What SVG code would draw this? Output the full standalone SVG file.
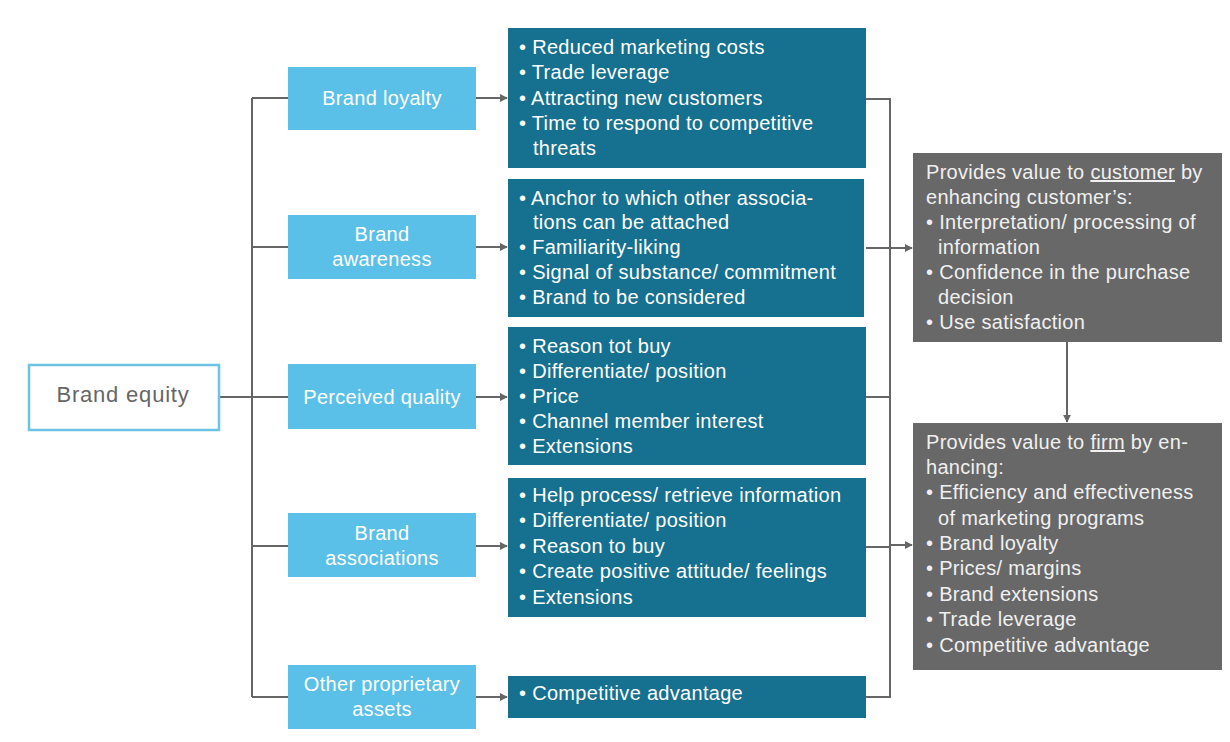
<svg xmlns="http://www.w3.org/2000/svg" width="1230" height="742" viewBox="0 0 1230 742">
  <style>
    .lbl { font-family: "Liberation Sans", Arial, sans-serif; font-size: 20px; letter-spacing: 0.3px; fill: #ffffff; }
    .mid { text-anchor: middle; }
    .root { font-family: "Liberation Sans", Arial, sans-serif; font-size: 22px; letter-spacing: 0.8px; fill: #666666; text-anchor: middle; }
    .gtxt { font-family: "Liberation Sans", Arial, sans-serif; font-size: 20px; letter-spacing: 0.3px; fill: #f0f0f0; }
    .driver { fill: #5bc0e8; }
    .benefit { fill: #16708f; }
    .value { fill: #686868; }
    .wire { fill: none; stroke: #666666; stroke-width: 2; }
    .u { text-decoration: underline; }
  </style>
  <defs>
    <marker id="arr" viewBox="0 0 10 10" refX="9" refY="5" markerWidth="4" markerHeight="4" orient="auto">
      <path d="M0,0 L10,5 L0,10 z" fill="#666666"/>
    </marker>
  </defs>

  <rect width="1230" height="742" fill="#ffffff"/>

  <!-- connectors -->
  <g id="connectors">
    <path class="wire" d="M219,397 H288"/>
    <path class="wire" d="M252,98 V697"/>
    <path class="wire" d="M252,98 H288 M252,247 H288 M252,546 H288 M252,697 H288"/>
    <path class="wire" marker-end="url(#arr)" d="M476,98 H507"/>
    <path class="wire" marker-end="url(#arr)" d="M476,247 H507"/>
    <path class="wire" marker-end="url(#arr)" d="M476,397 H507"/>
    <path class="wire" marker-end="url(#arr)" d="M476,546 H507"/>
    <path class="wire" marker-end="url(#arr)" d="M476,697 H507"/>
    <path class="wire" d="M866,99 H890 V697 H866 M866,248 H890 M866,397 H890 M866,547 H890"/>
    <path class="wire" marker-end="url(#arr)" d="M890,248 H912"/>
    <path class="wire" marker-end="url(#arr)" d="M890,545 H912"/>
    <path class="wire" marker-end="url(#arr)" d="M1067,342 V422"/>
  </g>

  <!-- root -->
  <g id="brand-equity">
    <rect x="29" y="365" width="190" height="65" fill="#ffffff" stroke="#6cc3e6" stroke-width="2.5"/>
    <text class="root" x="123" y="402">Brand equity</text>
  </g>

  <!-- drivers -->
  <g id="brand-loyalty">
    <rect class="driver" x="288" y="67" width="188" height="63"/>
    <text class="lbl mid" x="382" y="105">Brand loyalty</text>
  </g>
  <g id="brand-awareness">
    <rect class="driver" x="288" y="215" width="188" height="64"/>
    <text class="lbl mid" x="382" y="241">Brand</text>
    <text class="lbl mid" x="382" y="266">awareness</text>
  </g>
  <g id="perceived-quality">
    <rect class="driver" x="288" y="364" width="188" height="65"/>
    <text class="lbl mid" x="382" y="404">Perceived quality</text>
  </g>
  <g id="brand-associations">
    <rect class="driver" x="288" y="513" width="188" height="64"/>
    <text class="lbl mid" x="382" y="540">Brand</text>
    <text class="lbl mid" x="382" y="565">associations</text>
  </g>
  <g id="other-assets">
    <rect class="driver" x="288" y="665" width="188" height="64"/>
    <text class="lbl mid" x="382" y="691">Other proprietary</text>
    <text class="lbl mid" x="382" y="716">assets</text>
  </g>

  <!-- benefits -->
  <g id="loyalty-benefits">
    <rect class="benefit" x="508" y="28" width="358" height="140"/>
    <text class="lbl" x="519" y="54">• Reduced marketing costs</text>
    <text class="lbl" x="519" y="79">• Trade leverage</text>
    <text class="lbl" x="519" y="105">• Attracting new customers</text>
    <text class="lbl" x="519" y="130">• Time to respond to competitive</text>
    <text class="lbl" x="533" y="155">threats</text>
  </g>
  <g id="awareness-benefits">
    <rect class="benefit" x="508" y="179" width="356" height="138"/>
    <text class="lbl" x="519" y="205">• Anchor to which other associa-</text>
    <text class="lbl" x="533" y="229">tions can be attached</text>
    <text class="lbl" x="519" y="254">• Familiarity-liking</text>
    <text class="lbl" x="519" y="279">• Signal of  substance/ commitment</text>
    <text class="lbl" x="519" y="304">• Brand to be considered</text>
  </g>
  <g id="quality-benefits">
    <rect class="benefit" x="508" y="327" width="358" height="138"/>
    <text class="lbl" x="519" y="353">• Reason tot buy</text>
    <text class="lbl" x="519" y="378">• Differentiate/ position</text>
    <text class="lbl" x="519" y="403">• Price</text>
    <text class="lbl" x="519" y="428">• Channel member interest</text>
    <text class="lbl" x="519" y="453">• Extensions</text>
  </g>
  <g id="association-benefits">
    <rect class="benefit" x="508" y="478" width="358" height="139"/>
    <text class="lbl" x="519" y="502">• Help process/ retrieve information</text>
    <text class="lbl" x="519" y="527">• Differentiate/ position</text>
    <text class="lbl" x="519" y="553">• Reason to buy</text>
    <text class="lbl" x="519" y="578">• Create positive attitude/ feelings</text>
    <text class="lbl" x="519" y="604">• Extensions</text>
  </g>
  <g id="asset-benefits">
    <rect class="benefit" x="508" y="676" width="358" height="42"/>
    <text class="lbl" x="519" y="700">• Competitive advantage</text>
  </g>

  <!-- value outcomes -->
  <g id="customer-value">
    <rect class="value" x="913" y="153" width="309" height="189"/>
    <text class="gtxt" x="926" y="179">Provides value to <tspan class="u">customer</tspan> by</text>
    <text class="gtxt" x="926" y="204">enhancing customer’s:</text>
    <text class="gtxt" x="926" y="229">• Interpretation/ processing of</text>
    <text class="gtxt" x="938" y="254">information</text>
    <text class="gtxt" x="926" y="279">• Confidence in the purchase</text>
    <text class="gtxt" x="938" y="304">decision</text>
    <text class="gtxt" x="926" y="329">• Use satisfaction</text>
  </g>
  <g id="firm-value">
    <rect class="value" x="913" y="423" width="309" height="247"/>
    <text class="gtxt" x="926" y="449">Provides value to <tspan class="u">firm</tspan> by en-</text>
    <text class="gtxt" x="926" y="474">hancing:</text>
    <text class="gtxt" x="926" y="499">• Efficiency and effectiveness</text>
    <text class="gtxt" x="938" y="525">of marketing programs</text>
    <text class="gtxt" x="926" y="550">• Brand loyalty</text>
    <text class="gtxt" x="926" y="575">• Prices/ margins</text>
    <text class="gtxt" x="926" y="601">• Brand extensions</text>
    <text class="gtxt" x="926" y="626">• Trade leverage</text>
    <text class="gtxt" x="926" y="652">• Competitive advantage</text>
  </g>
</svg>
